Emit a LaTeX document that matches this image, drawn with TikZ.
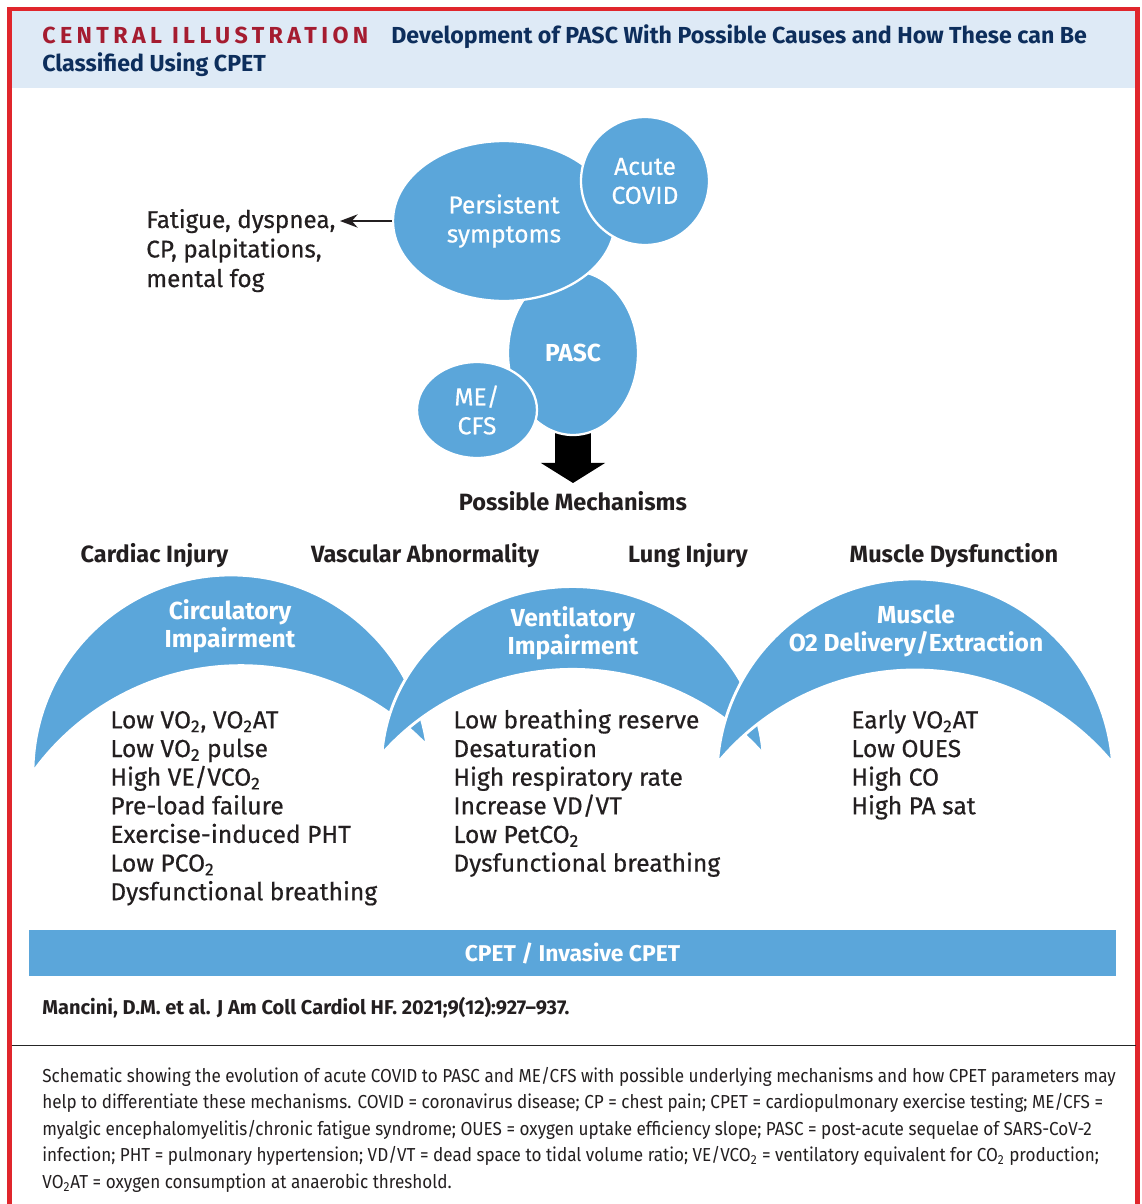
\documentclass[tikz,border=0pt]{standalone}
\usepackage{fontspec}
\setmainfont{Fira Sans}
\usetikzlibrary{shapes.geometric, arrows.meta}

\definecolor{blob}{HTML}{5BA6DA}
\definecolor{headbg}{HTML}{DEEAF6}
\definecolor{framered}{HTML}{E0262C}
\definecolor{titlered}{HTML}{A51C30}
\definecolor{navy}{HTML}{0D2E5C}
\definecolor{ink}{HTML}{231F20}

\newcommand\dn[1]{\textsubscript{#1}}
\newcommand\medweight{\addfontfeature{FakeBold=0.5}}

% multi-line nodes are anchored at the baseline of their last line
\tikzset{
  bubble/.style={ellipse, fill=blob, draw=white, line width=1.3pt, inner sep=0pt,
    text=white, align=center, font=\fontsize{14}{16.5}\selectfont\medweight},
  lunefill/.style={fill=blob, draw=white, line width=1.6pt},
  lunelabel/.style={text=white, align=center, inner sep=0pt,
    font=\bfseries\fontsize{14}{15.8}\selectfont},
  heading/.style={text=ink, inner sep=0pt, font=\bfseries\fontsize{13.4}{16}\selectfont},
  listing/.style={text=ink, align=left, inner sep=0pt, font=\fontsize{14}{16.3}\selectfont\medweight},
  titletext/.style={anchor=base west, inner sep=0pt, text=navy,
    font=\bfseries\fontsize{13.2}{15}\selectfont},
}

\begin{document}
\begin{tikzpicture}[x=0.02cm, y=-0.02cm]
\useasboundingbox (0,0) rectangle (1142,1204);

% header band and frame
\fill[headbg] (11,11) rectangle (1135,88);
\draw[framered, line width=2.3pt] (9.5,1204) -- (9.5,9) -- (1137.5,9) -- (1137.5,1204);

\node[titletext, text=titlered,
  font=\bfseries\fontsize{13.2}{15}\selectfont\addfontfeature{LetterSpace=19}]
  (tag) at (42,43.3) {CENTRAL ILLUSTRATION};
\node[titletext] (title1) at (391,43.3) {Development of PASC With Possible Causes and How These can Be};
\node[titletext] (title2) at (42,71.7) {Classified Using CPET};

% big arrow towards the mechanisms
\coordinate (bigtop) at (573,425);
\coordinate (bigtip) at (573,483);
\draw[black, line width=21pt, -{Triangle[length=11.4pt, width=36pt]}] (bigtop) -- (bigtip);

% bubbles
\node[bubble, minimum width=2.6cm, minimum height=3.28cm, font=\bfseries\fontsize{14}{16.5}\selectfont]
  (pasc) at (573,353) {PASC};
\node[bubble, minimum width=4.44cm, minimum height=3.2cm] (persist) at (504,221)
  {Persistent\\symptoms};
\node[bubble, minimum width=2.56cm, minimum height=2.56cm] (acute) at (645,181)
  {Acute\\COVID};
\node[bubble, minimum width=2.4cm, minimum height=1.92cm] (mecfs) at (477,410)
  {ME/\\CFS};

% symptoms
\coordinate (symtip) at (340,221);
\draw[ink, line width=1.4pt, -{Stealth[length=10pt, width=7.5pt]}] (persist.west) -- (symtip);
\node[listing, anchor=base west, font=\fontsize{13.8}{16.8}\selectfont\medweight] (symptoms) at (146,287)
  {Fatigue, dyspnea,\\CP, palpitations,\\mental fog};

\node[heading, anchor=base] (mech) at (573,510) {Possible Mechanisms};

% mechanism headings
\node[heading, anchor=base] (cardiac) at (154.5,562) {Cardiac Injury};
\node[heading, anchor=base] (vascular) at (425,562) {Vascular Abnormality};
\node[heading, anchor=base] (lung) at (688,562) {Lung Injury};
\node[heading, anchor=base] (muscle) at (954,562) {Muscle Dysfunction};

% crescent bands
\filldraw[lunefill, shift={(230,759)}, rotate=3.8]
  (-197.5,0) arc[start angle=184.05, end angle=355.95, radius=198]
  arc[start angle=320.44, end angle=219.56, radius=256.2] -- cycle;
\filldraw[lunefill, shift={(572.5,754)}, xscale=0.965, yscale=0.91]
  (-197.5,0) arc[start angle=184.05, end angle=355.95, radius=198]
  arc[start angle=320.44, end angle=219.56, radius=256.2] -- cycle;
\filldraw[lunefill, shift={(915,763)}]
  (-197.5,0) arc[start angle=184.05, end angle=355.95, radius=198]
  arc[start angle=320.44, end angle=219.56, radius=256.2] -- cycle;

\node[lunelabel, anchor=base] (circ) at (230,647.5) {Circulatory\\Impairment};
\node[lunelabel, anchor=base] (vent) at (573,654) {Ventilatory\\Impairment};
\node[lunelabel, anchor=base] (musc) at (916,651) {Muscle\\O2 Delivery/Extraction};

% parameter lists
\node[listing, anchor=base west] (circlist) at (110,900.2)
  {Low VO\dn2, VO\dn2AT\\Low VO\dn2 pulse\\High VE/VCO\dn2\\Pre-load failure\\Exercise-induced PHT\\Low PCO\dn2\\Dysfunctional breathing};
\node[listing, anchor=base west] (ventlist) at (453,871.6)
  {Low breathing reserve\\Desaturation\\High respiratory rate\\Increase VD/VT\\Low PetCO\dn2\\Dysfunctional breathing};
\node[listing, anchor=base west] (musclist) at (851,814.3)
  {Early VO\dn2AT\\Low OUES\\High CO\\High PA sat};

% test bar
\node[fill=blob, minimum width=21.74cm, minimum height=0.92cm, inner sep=0pt, text=white,
  font=\bfseries\fontsize{13}{15}\selectfont] (cpet) at (572.5,953) {CPET / Invasive CPET};

\node[anchor=base west, inner sep=0pt, text=ink, font=\bfseries\fontsize{11.4}{13}\selectfont]
  (cite) at (42,1014) {Mancini, D.M. et al. J Am Coll Cardiol HF. 2021;9(12):927--937.};

\coordinate (ruleL) at (11.5,1045.5);
\coordinate (ruleR) at (1135.5,1045.5);
\draw[black!85, line width=1.1pt] (ruleL) -- (ruleR);

\node[anchor=base west, inner sep=0pt, text=ink, align=left,
  font=\fontsize{10.7}{15.14}\selectfont\addfontfeature{FakeStretch=0.91}]
  (caption) at (42,1188.4) {Schematic showing the evolution of acute COVID to PASC and ME/CFS with possible underlying mechanisms and how CPET parameters may\\
help to differentiate these mechanisms. COVID = coronavirus disease; CP = chest pain; CPET = cardiopulmonary exercise testing; ME/CFS =\\
myalgic encephalomyelitis/chronic fatigue syndrome; OUES = oxygen uptake efficiency slope; PASC = post-acute sequelae of SARS-CoV-2\\
infection; PHT = pulmonary hypertension; VD/VT = dead space to tidal volume ratio; VE/VCO\dn2 = ventilatory equivalent for CO\dn2 production;\\
VO\dn2AT = oxygen consumption at anaerobic threshold.};
\end{tikzpicture}
\end{document}
